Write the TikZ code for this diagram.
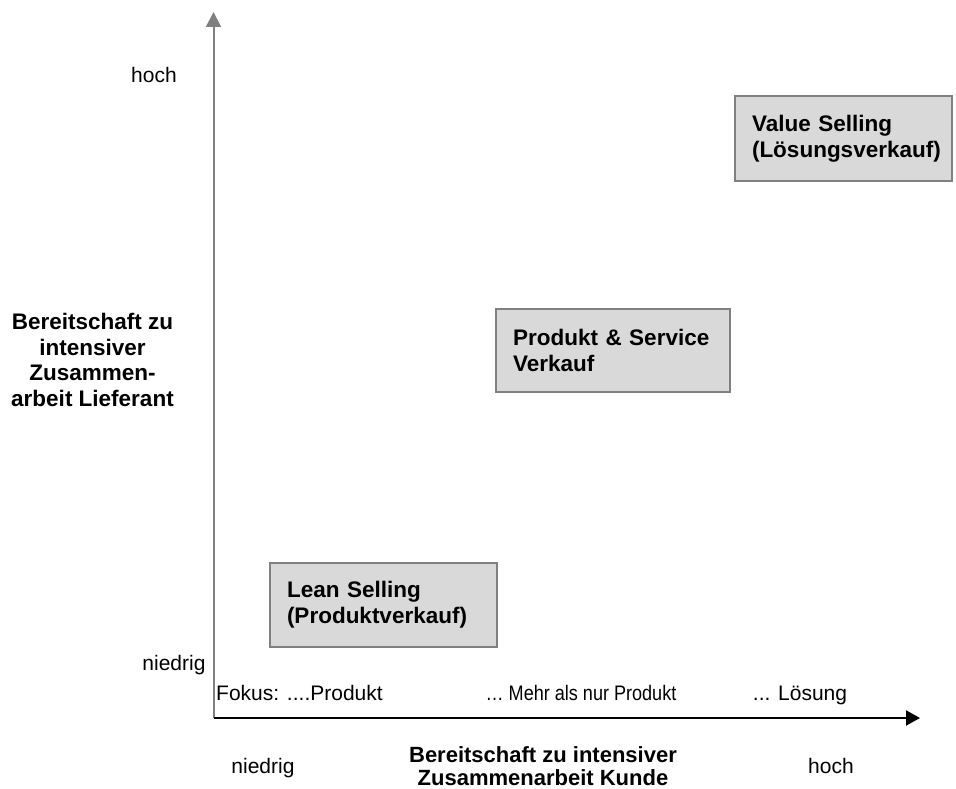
\documentclass[tikz,border=0pt]{standalone}
\usepackage{fontspec}
\setmainfont{Liberation Sans}
\usetikzlibrary{arrows.meta}
\definecolor{boxfill}{HTML}{D9D9D9}
\definecolor{boxline}{HTML}{808080}
\definecolor{yaxis}{HTML}{7F7F7F}
\begin{document}
\begin{tikzpicture}[x=1pt,y=-1pt,
  stratbox/.style={draw=boxline,line width=1.5pt,fill=boxfill,rectangle,
    inner xsep=17pt,inner ysep=0pt,align=left,
    font=\fontsize{22.5}{26}\selectfont\bfseries},
  lbl/.style={inner sep=0pt,font=\fontsize{21}{24}\selectfont},
  blbl/.style={inner sep=0pt,align=center,font=\fontsize{22.5}{25.5}\selectfont\bfseries}]
\useasboundingbox (0,0) rectangle (956,789);
% axes
\coordinate (o) at (213.5,718);
\coordinate (ytop) at (213.5,12);
\coordinate (xend) at (920,718);
\draw[yaxis,line width=2pt,-{Triangle[length=15pt,width=15pt]}] (o) -- (ytop);
\draw[black,line width=2pt,-{Triangle[length=14pt,width=15pt]}] (o) -- (xend);
% boxes
\node[stratbox,minimum width=217pt,minimum height=85pt,text width=183pt] (vs) at (843.5,138.5) {Value Selling\\(Lösungsverkauf)};
\node[stratbox,minimum width=234pt,minimum height=83pt,text width=200pt] (ps) at (613,350.5) {Produkt \& Service\\Verkauf};
\node[stratbox,minimum width=227pt,minimum height=84pt,text width=193pt] (ls) at (383.5,605) {Lean Selling\\(Produktverkauf)};
% y labels
\node[lbl] (yhoch) at (154,75) {hoch};
\node[lbl] (yniedrig) at (174,665) {niedrig};
\node[blbl] (ytitle) at (92.5,360) {Bereitschaft zu\\intensiver\\Zusammen-\\arbeit Lieferant};
% x focus labels
\node[lbl,anchor=base west] (f1) at (216,700) {Fokus: ....Produkt};
\node[lbl,anchor=base] (f2) at (581,700) {\scalebox{0.86}[1]{… Mehr als nur Produkt}};
\node[lbl,anchor=base] (f3) at (800,700) {... Lösung};
% x labels
\node[lbl,anchor=base] (xniedrig) at (263,773) {niedrig};
\node[lbl,anchor=base] (xhoch) at (831,773) {hoch};
\node[blbl,font=\fontsize{22}{23}\selectfont\bfseries] (xtitle) at (543,766) {Bereitschaft zu intensiver\\Zusammenarbeit Kunde};
\end{tikzpicture}
\end{document}
